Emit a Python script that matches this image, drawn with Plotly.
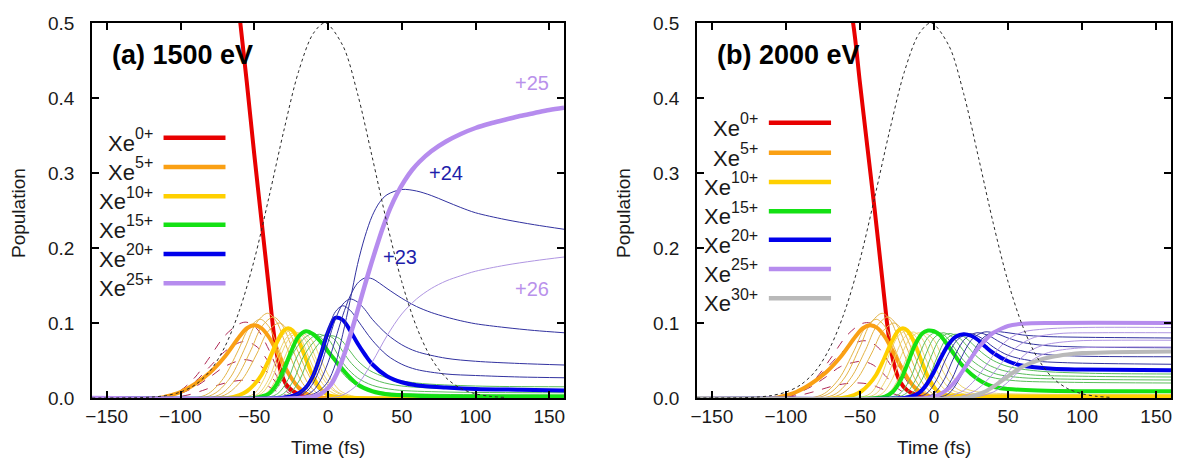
import plotly.graph_objects as go

# ---------------- data: (time fs, population) pairs ----------------
# Panel (a) 1500 eV
a_pulse = [(-160,0),(-130,0.0004),(-120,0.0012),(-110,0.0032),(-100,0.0079),(-90,0.0176),(-80,0.036),(-70,0.068),
           (-60,0.117),(-50,0.184),(-40,0.268),(-30,0.356),(-20,0.435),(-10,0.486),(-2,0.5),(10,0.47),(20,0.406),
           (30,0.321),(40,0.233),(50,0.155),(60,0.095),(70,0.053),(80,0.027),(90,0.0128),(100,0.0056),(110,0.0022),(120,0.0008)]
a_xe0 = [(-160,1.0),(-120,0.99),(-100,0.96),(-90,0.9),(-80,0.8),(-70,0.68),(-60,0.51),(-55,0.42),(-50,0.325),(-45,0.235),
         (-40,0.145),(-37,0.09),(-35,0.062),(-32,0.035),(-28,0.017),(-22,0.007),(-15,0.002),(-8,0),(160,0)]
a_xe1 = [(-160,0),(-110,0),(-95,0.004),(-85,0.01),(-75,0.017),(-65,0.022),(-55,0.024),(-48,0.022),(-40,0.015),(-33,0.007),(-25,0.002),(-15,0),(160,0)]
a_xe2 = [(-160,0),(-112,0),(-100,0.006),(-90,0.015),(-80,0.028),(-70,0.042),(-60,0.05),(-55,0.051),(-48,0.046),(-40,0.032),(-33,0.016),(-25,0.005),(-15,0),(160,0)]
a_xe3 = [(-160,0),(-112,0),(-100,0.008),(-90,0.022),(-80,0.042),(-70,0.062),(-60,0.074),(-55,0.075),(-48,0.068),(-40,0.047),(-33,0.024),(-25,0.007),(-15,0),(160,0)]
a_xe4 = [(-160,0),(-112,0),(-100,0.01),(-90,0.028),(-80,0.055),(-70,0.083),(-60,0.099),(-55,0.101),(-48,0.092),(-40,0.064),(-33,0.033),(-25,0.01),(-15,0),(160,0)]
a_xe5 = [(-160,0),(-115,0),(-110,0.002),(-100,0.008),(-90,0.019),(-80,0.034),(-70,0.055),(-60,0.082),(-55,0.093),(-50,0.097),
         (-45,0.093),(-40,0.081),(-35,0.063),(-30,0.044),(-25,0.027),(-20,0.014),(-15,0.006),(-10,0.002),(0,0),(160,0)]
a_xe6 = [(-160,0),(-91,0),(-81,0.006),(-71,0.026),(-61,0.063),(-54,0.092),(-46,0.105),(-40,0.095),(-34,0.068),(-28,0.04),(-22,0.018),(-16,0.006),(-8,0),(160,0)]
a_xe7 = [(-160,0),(-86,0),(-76,0.007),(-66,0.028),(-56,0.068),(-49,0.099),(-41,0.113),(-35,0.102),(-29,0.073),(-23,0.043),(-17,0.019),(-11,0.007),(-3,0),(160,0)]
a_xe8 = [(-160,0),(-82,0),(-72,0.006),(-62,0.027),(-52,0.065),(-45,0.095),(-37,0.108),(-31,0.097),(-25,0.07),(-19,0.041),(-13,0.018),(-7,0.006),(1,0),(160,0)]
a_xe9 = [(-160,0),(-78,0),(-68,0.006),(-58,0.025),(-48,0.06),(-41,0.088),(-33,0.1),(-27,0.09),(-21,0.065),(-15,0.038),(-9,0.017),(-3,0.006),(5,0),(160,0)]
a_xe10 = [(-160,0),(-68,0),(-60,0.004),(-55,0.009),(-50,0.018),(-45,0.031),(-40,0.051),(-35,0.073),(-30,0.09),(-27,0.093),(-24,0.09),
          (-20,0.077),(-15,0.052),(-10,0.028),(-5,0.012),(0,0.004),(10,0.001),(20,0),(160,0)]
a_xe11 = [(-160,0),(-60,0),(-50,0.006),(-43,0.027),(-37,0.059),(-31,0.083),(-25,0.09),(-19,0.081),(-13,0.054),(-7,0.029),(0,0.011),(8,0.003),(20,0),(160,0)]
a_xe12 = [(-160,0),(-57,0),(-47,0.006),(-40,0.026),(-34,0.057),(-28,0.081),(-22,0.088),(-16,0.079),(-10,0.053),(-4,0.028),(3,0.011),(11,0.003),(23,0),(160,0)]
a_xe13 = [(-160,0),(-55,0),(-45,0.006),(-38,0.026),(-32,0.057),(-26,0.08),(-20,0.087),(-14,0.078),(-8,0.052),(-2,0.028),(5,0.01),(13,0.003),(25,0),(160,0)]
a_xe14 = [(-160,0),(-52,0),(-42,0.006),(-35,0.026),(-29,0.056),(-23,0.079),(-17,0.086),(-11,0.077),(-5,0.052),(1,0.028),(8,0.01),(16,0.003),(28,0),(160,0)]
a_xe15 = [(-160,0),(-50,0),(-45,0.002),(-40,0.006),(-35,0.018),(-30,0.038),(-25,0.062),(-20,0.082),(-15,0.089),(-10,0.085),(-5,0.075),
          (0,0.062),(5,0.05),(10,0.038),(15,0.027),(20,0.018),(30,0.009),(40,0.005),(60,0.003),(100,0.002),(160,0.002)]
a_xe16 = [(-160,0),(-48,0),(-38,0.006),(-31,0.025),(-25,0.055),(-16,0.08),(-10,0.086),(-4,0.079),(2,0.058),(8,0.038),(15,0.023),(25,0.012),(40,0.007),(70,0.005),(160,0.004)]
a_xe17 = [(-160,0),(-44,0),(-34,0.006),(-27,0.025),(-21,0.055),(-12,0.079),(-6,0.085),(0,0.079),(6,0.06),(12,0.042),(20,0.027),(30,0.017),(45,0.011),(80,0.008),(160,0.007)]
a_xe18 = [(-160,0),(-40,0),(-30,0.006),(-23,0.025),(-17,0.054),(-8,0.078),(-2,0.084),(4,0.079),(10,0.062),(16,0.046),(24,0.032),(35,0.022),(50,0.016),(90,0.012),(160,0.011)]
a_xe19 = [(-160,0),(-36,0),(-26,0.006),(-19,0.025),(-13,0.053),(-4,0.077),(2,0.083),(8,0.079),(14,0.065),(20,0.05),(28,0.037),(40,0.027),(60,0.02),(100,0.016),(160,0.015)]
a_xe20 = [(-160,0),(-32,0),(-25,0.002),(-20,0.006),(-15,0.014),(-10,0.03),(-5,0.057),(0,0.088),(5,0.107),(10,0.104),(15,0.09),(20,0.073),
          (25,0.058),(30,0.045),(40,0.029),(50,0.021),(60,0.017),(80,0.014),(100,0.012),(130,0.011),(160,0.01)]
a_xe21 = [(-160,0),(-30,0),(-20,0.006),(-15,0.014),(-10,0.03),(-5,0.058),(0,0.09),(5,0.115),(10,0.123),(15,0.117),(20,0.104),(25,0.09),
          (30,0.077),(40,0.057),(50,0.045),(60,0.038),(80,0.032),(100,0.03),(130,0.028),(160,0.027)]
a_xe22 = [(-160,0),(-25,0),(-15,0.008),(-10,0.02),(-5,0.042),(0,0.074),(5,0.105),(10,0.125),(15,0.132),(20,0.128),(25,0.118),(30,0.105),
          (40,0.085),(50,0.071),(60,0.062),(80,0.053),(100,0.049),(130,0.046),(160,0.044)]
a_xe23 = [(-160,0),(-20,0),(-10,0.01),(-5,0.024),(0,0.047),(5,0.078),(10,0.11),(15,0.136),(20,0.153),(25,0.16),(30,0.159),(35,0.153),
          (40,0.146),(50,0.133),(60,0.122),(70,0.114),(80,0.108),(90,0.103),(100,0.099),(120,0.094),(140,0.09),(160,0.087)]
a_xe24 = [(-160,0),(-20,0),(-10,0.005),(-5,0.011),(0,0.022),(5,0.045),(10,0.085),(15,0.13),(20,0.178),(25,0.215),(30,0.243),(35,0.261),
          (40,0.271),(50,0.278),(60,0.276),(70,0.27),(80,0.262),(90,0.254),(100,0.247),(120,0.238),(140,0.231),(160,0.225)]
a_xe25 = [(-160,0),(-18,0),(-8,0.003),(-3,0.008),(2,0.018),(7,0.037),(12,0.064),(17,0.096),(22,0.13),(27,0.164),(32,0.196),(37,0.226),
          (42,0.252),(47,0.273),(52,0.29),(57,0.304),(62,0.315),(70,0.329),(80,0.342),(90,0.352),(100,0.36),(110,0.366),(120,0.371),
          (130,0.376),(140,0.38),(150,0.384),(160,0.387)]
a_xe26 = [(-160,0),(0,0),(10,0.004),(20,0.018),(30,0.048),(40,0.083),(50,0.112),(60,0.132),(70,0.146),(80,0.156),(90,0.163),(100,0.169),
          (120,0.177),(140,0.183),(160,0.188)]

# Panel (b) 2000 eV
b_pulse = a_pulse
b_xe0 = [(-160,1.0),(-120,0.99),(-100,0.95),(-85,0.84),(-75,0.72),(-65,0.6),(-55,0.505),(-50,0.42),(-45,0.335),(-40,0.25),(-35,0.16),
         (-32,0.105),(-30,0.075),(-27,0.045),(-23,0.022),(-18,0.01),(-12,0.004),(-5,0.001),(5,0),(160,0)]
b_xe1 = [(-160,0),(-105,0),(-90,0.004),(-80,0.009),(-70,0.015),(-60,0.019),(-50,0.02),(-43,0.018),(-35,0.012),(-28,0.006),(-20,0.002),(-10,0),(160,0)]
b_xe2 = [(-160,0),(-105,0),(-93,0.006),(-83,0.015),(-73,0.028),(-63,0.042),(-53,0.048),(-48,0.049),(-41,0.044),(-33,0.03),(-26,0.015),(-18,0.005),(-8,0),(160,0)]
b_xe3 = [(-160,0),(-103,0),(-91,0.008),(-81,0.022),(-71,0.043),(-61,0.063),(-51,0.075),(-45,0.076),(-38,0.068),(-30,0.046),(-23,0.023),(-15,0.007),(-5,0),(160,0)]
b_xe4 = [(-160,0),(-101,0),(-89,0.01),(-79,0.028),(-69,0.055),(-59,0.083),(-49,0.099),(-43,0.1),(-36,0.09),(-28,0.062),(-21,0.031),(-13,0.01),(-3,0),(160,0)]
b_xe5 = [(-160,0),(-108,0),(-103,0.002),(-93,0.008),(-83,0.019),(-73,0.034),(-63,0.055),(-53,0.082),(-48,0.093),(-43,0.097),(-38,0.093),
         (-33,0.081),(-28,0.063),(-23,0.044),(-18,0.027),(-13,0.014),(-8,0.006),(-3,0.002),(7,0),(160,0)]
b_xe6 = [(-160,0),(-84,0),(-74,0.006),(-64,0.026),(-54,0.063),(-47,0.092),(-39,0.105),(-33,0.095),(-27,0.068),(-21,0.04),(-15,0.018),(-9,0.006),(-1,0),(160,0)]
b_xe7 = [(-160,0),(-80,0),(-70,0.007),(-60,0.028),(-50,0.068),(-43,0.099),(-35,0.113),(-29,0.102),(-23,0.073),(-17,0.043),(-11,0.019),(-5,0.007),(3,0),(160,0)]
b_xe8 = [(-160,0),(-76,0),(-66,0.006),(-56,0.027),(-46,0.065),(-39,0.095),(-31,0.108),(-25,0.097),(-19,0.07),(-13,0.041),(-7,0.018),(-1,0.006),(7,0),(160,0)]
b_xe9 = [(-160,0),(-72,0),(-62,0.006),(-52,0.025),(-42,0.06),(-35,0.088),(-27,0.1),(-21,0.09),(-15,0.065),(-9,0.038),(-3,0.017),(3,0.006),(11,0),(160,0)]
b_xe10 = [(-160,0),(-62,0),(-54,0.004),(-49,0.009),(-44,0.018),(-39,0.031),(-34,0.051),(-29,0.073),(-24,0.09),(-21,0.093),(-18,0.09),
          (-14,0.077),(-9,0.052),(-4,0.028),(1,0.012),(6,0.005),(16,0.003),(40,0.002),(160,0.002)]
b_xe11 = [(-160,0),(-53,0),(-43,0.006),(-36,0.027),(-30,0.059),(-24,0.083),(-18,0.09),(-12,0.081),(-6,0.054),(0,0.029),(7,0.012),(15,0.005),(30,0.003),(160,0.002)]
b_xe12 = [(-160,0),(-49,0),(-39,0.006),(-32,0.026),(-26,0.057),(-20,0.081),(-14,0.088),(-8,0.079),(-2,0.053),(4,0.029),(11,0.012),(19,0.006),(35,0.004),(160,0.003)]
b_xe13 = [(-160,0),(-45,0),(-35,0.006),(-28,0.026),(-22,0.057),(-16,0.08),(-10,0.087),(-4,0.078),(2,0.052),(8,0.029),(15,0.013),(23,0.007),(40,0.005),(160,0.004)]
b_xe14 = [(-160,0),(-41,0),(-31,0.006),(-24,0.026),(-18,0.056),(-12,0.079),(-6,0.086),(0,0.077),(6,0.052),(12,0.03),(19,0.015),(27,0.009),(45,0.006),(160,0.005)]
b_xe15 = [(-160,0),(-38,0),(-33,0.002),(-28,0.008),(-23,0.022),(-18,0.045),(-13,0.07),(-8,0.086),(-4,0.09),(0,0.089),(4,0.084),(8,0.074),
          (13,0.06),(18,0.046),(25,0.032),(32,0.022),(40,0.015),(50,0.012),(70,0.01),(100,0.009),(160,0.009)]
b_xe16 = [(-160,0),(-33,0),(-23,0.006),(-16,0.026),(-10,0.057),(-4,0.081),(2,0.088),(8,0.082),(14,0.066),(20,0.05),(28,0.037),(38,0.028),(55,0.023),(90,0.021),(160,0.02)]
b_xe17 = [(-160,0),(-29,0),(-19,0.006),(-12,0.026),(-6,0.056),(0,0.08),(6,0.087),(12,0.082),(18,0.068),(24,0.053),(32,0.041),(42,0.032),(60,0.027),(95,0.025),(160,0.024)]
b_xe18 = [(-160,0),(-25,0),(-15,0.006),(-8,0.025),(-2,0.055),(4,0.079),(10,0.086),(16,0.082),(22,0.07),(28,0.057),(36,0.045),(46,0.037),(65,0.031),(100,0.029),(160,0.028)]
b_xe19 = [(-160,0),(-21,0),(-11,0.006),(-4,0.025),(2,0.054),(8,0.078),(14,0.085),(20,0.082),(26,0.072),(32,0.061),(40,0.05),(50,0.042),(70,0.036),(105,0.033),(160,0.032)]
b_xe20 = [(-160,0),(-20,0),(-15,0.002),(-10,0.007),(-5,0.018),(0,0.035),(5,0.055),(10,0.072),(15,0.082),(20,0.085),(25,0.083),(30,0.077),
          (35,0.068),(40,0.06),(50,0.049),(60,0.043),(80,0.039),(100,0.038),(160,0.037)]
b_xe21 = [(-160,0),(-15,0),(-5,0.006),(2,0.025),(8,0.052),(16,0.078),(24,0.086),(32,0.08),(40,0.068),(50,0.057),(65,0.05),(90,0.047),(160,0.045)]
b_xe22 = [(-160,0),(-10,0),(0,0.006),(7,0.025),(13,0.052),(21,0.079),(29,0.087),(37,0.083),(45,0.074),(55,0.065),(70,0.059),(95,0.056),(160,0.055)]
b_xe23 = [(-160,0),(-5,0),(5,0.006),(12,0.025),(18,0.052),(26,0.079),(34,0.088),(42,0.086),(50,0.08),(60,0.074),(75,0.07),(100,0.068),(160,0.067)]
b_xe24 = [(-160,0),(0,0),(10,0.006),(17,0.025),(24,0.052),(32,0.078),(40,0.088),(50,0.087),(60,0.084),(75,0.082),(100,0.081),(160,0.08)]
b_xe25 = [(-160,0),(-5,0),(0,0.002),(5,0.006),(10,0.013),(15,0.024),(20,0.038),(25,0.053),(30,0.067),(35,0.078),(40,0.087),(45,0.092),
          (50,0.096),(60,0.099),(80,0.1),(160,0.1)]
b_xe26 = [(-160,0),(0,0),(10,0.002),(20,0.01),(28,0.025),(35,0.043),(42,0.062),(50,0.078),(60,0.088),(75,0.092),(100,0.094),(160,0.094)]
b_xe27 = [(-160,0),(8,0),(18,0.002),(28,0.01),(36,0.024),(43,0.04),(50,0.057),(58,0.071),(68,0.081),(85,0.086),(110,0.087),(160,0.087)]
b_xe28 = [(-160,0),(15,0),(25,0.002),(35,0.009),(43,0.021),(50,0.035),(57,0.05),(65,0.063),(75,0.071),(95,0.076),(120,0.077),(160,0.077)]
b_xe29 = [(-160,0),(20,0),(30,0.002),(40,0.008),(48,0.018),(55,0.031),(62,0.044),(70,0.055),(80,0.062),(100,0.067),(125,0.068),(160,0.068)]
b_xe30 = [(-160,0),(20,0),(25,0.002),(30,0.005),(35,0.009),(40,0.015),(45,0.022),(50,0.029),(55,0.036),(60,0.042),(70,0.05),(80,0.055),
          (90,0.058),(100,0.06),(120,0.061),(160,0.062)]

x_ticks = [-150, -100, -50, 0, 50, 100, 150]
y_ticks = [0.0, 0.1, 0.2, 0.3, 0.4, 0.5]
y_ticktext = ["0.0", "0.1", "0.2", "0.3", "0.4", "0.5"]
legend_a = ["0", "5", "10", "15", "20", "25"]
legend_b = ["0", "5", "10", "15", "20", "25", "30"]
panel_titles = ["(a) 1500 eV", "(b) 2000 eV"]

# ---------------- styles ----------------
RED = "rgb(232,0,0)"
ORANGE = "rgb(250,160,20)"
GOLD = "rgb(255,208,0)"
GREEN = "rgb(20,225,20)"
BLUE = "rgb(0,0,235)"
LAV = "rgb(182,140,238)"
GRAY = "rgb(185,185,185)"
thick_col = {0: RED, 5: ORANGE, 10: GOLD, 15: GREEN, 20: BLUE, 25: LAV, 30: GRAY}
THIN_RED = "rgb(175,40,85)"
THIN_OR = "rgb(228,180,70)"
THIN_GOLD = "rgb(238,212,110)"
THIN_GREEN = "rgb(90,190,90)"
THIN_BLUE = "rgb(50,50,160)"
THIN_LAV = "rgb(176,150,226)"

fig = go.Figure()


def add(pairs, xa, ya, color, width, dash="solid"):
    t = [p[0] for p in pairs]
    v = [p[1] for p in pairs]
    fig.add_trace(go.Scatter(x=t, y=v, mode="lines", xaxis=xa, yaxis=ya,
                             line=dict(color=color, width=width, dash=dash, shape="spline", smoothing=0.9),
                             hoverinfo="skip", showlegend=False))


# panel a
A = ("x", "y")
for c in [a_xe1, a_xe2, a_xe3, a_xe4]:
    add(c, *A, THIN_RED, 1, "dash")
add(a_xe0, *A, RED, 4)
for c in [a_xe6, a_xe7, a_xe8, a_xe9]:
    add(c, *A, THIN_OR, 1)
add(a_xe5, *A, ORANGE, 4)
for c in [a_xe11, a_xe12, a_xe13, a_xe14]:
    add(c, *A, THIN_GOLD, 1)
add(a_xe10, *A, GOLD, 4)
for c in [a_xe16, a_xe17, a_xe18, a_xe19]:
    add(c, *A, THIN_GREEN, 1)
add(a_xe15, *A, GREEN, 4)
add(a_xe20, *A, BLUE, 4)
for c in [a_xe21, a_xe22, a_xe23, a_xe24]:
    add(c, *A, THIN_BLUE, 1)
add(a_xe26, *A, THIN_LAV, 1)
add(a_xe25, *A, LAV, 4.5)
add(a_pulse, *A, "rgb(40,40,40)", 1, "dot")

# panel b
B = ("x2", "y2")
for c in [b_xe1, b_xe2, b_xe3, b_xe4]:
    add(c, *B, THIN_RED, 1, "dash")
add(b_xe0, *B, RED, 4)
for c in [b_xe6, b_xe7, b_xe8, b_xe9]:
    add(c, *B, THIN_OR, 1)
add(b_xe5, *B, ORANGE, 4)
for c in [b_xe11, b_xe12, b_xe13, b_xe14]:
    add(c, *B, THIN_GOLD, 1)
add(b_xe10, *B, GOLD, 4)
for c in [b_xe16, b_xe17, b_xe18, b_xe19]:
    add(c, *B, THIN_GREEN, 1)
add(b_xe15, *B, GREEN, 4)
for c in [b_xe21, b_xe22, b_xe23, b_xe24]:
    add(c, *B, THIN_BLUE, 1)
add(b_xe20, *B, BLUE, 4)
for c in [b_xe26, b_xe27, b_xe28, b_xe29]:
    add(c, *B, THIN_LAV, 1)
add(b_xe25, *B, LAV, 4)
add(b_xe30, *B, GRAY, 4)
add(b_pulse, *B, "rgb(40,40,40)", 1, "dot")

# ---------------- axes ----------------
FONT = "Liberation Sans, Arial, sans-serif"
TXT = "#1a1a1a"
axis_common = dict(showline=True, linecolor="black", linewidth=1.5, mirror="allticks", ticks="inside",
                   ticklen=7, tickwidth=1.5, tickcolor="black", showgrid=False, zeroline=False,
                   tickfont=dict(family=FONT, size=19, color=TXT))
W, H = 1178, 460
ydom = [1 - 398 / H, 1 - 23 / H]
fig.update_layout(
    width=W, height=H, margin=dict(l=0, r=0, t=0, b=0, autoexpand=False),
    paper_bgcolor="white", plot_bgcolor="white", showlegend=False,
    xaxis=dict(domain=[92 / W, 564 / W], range=[-160, 160], tickvals=x_ticks, anchor="y", **axis_common),
    yaxis=dict(domain=ydom, range=[0, 0.5], tickvals=y_ticks, ticktext=y_ticktext, anchor="x",
               ticklabelstandoff=12, **axis_common),
    xaxis2=dict(domain=[697 / W, 1171 / W], range=[-160, 160], tickvals=x_ticks, anchor="y2", **axis_common),
    yaxis2=dict(domain=ydom, range=[0, 0.5], tickvals=y_ticks, ticktext=y_ticktext, anchor="x2",
                ticklabelstandoff=12, **axis_common),
)

ann = []
# axis titles
for xc, yl in [((92 + 564) / 2 / W, 18 / W), ((697 + 1171) / 2 / W, 623 / W)]:
    ann.append(dict(text="Time (fs)", x=xc, y=1 - 447 / H, xref="paper", yref="paper", showarrow=False,
                    font=dict(family=FONT, size=19, color=TXT), xanchor="center", yanchor="middle"))
    ann.append(dict(text="Population", x=yl, y=1 - 213 / H, xref="paper", yref="paper", showarrow=False,
                    textangle=-90, font=dict(family=FONT, size=19, color=TXT), xanchor="center", yanchor="middle"))
# panel titles
for (xr, yr), title in zip([("x", "y"), ("x2", "y2")], panel_titles):
    ann.append(dict(text="<b>" + title + "</b>", x=-148, y=0.457, xref=xr, yref=yr, showarrow=False,
                    xanchor="left", yanchor="middle", font=dict(family=FONT, size=27, color="black")))

# legends (text + superscript + line keys)
shapes = []
legend_rows_a = [0.347, 0.308, 0.269, 0.231, 0.192, 0.153]
legend_rows_b = [0.367, 0.327, 0.288, 0.249, 0.211, 0.172, 0.133]
PX_PER_FS = 1.48
SUP_SIZE = 16
LEG_RIGHT = -118.0
for (xr, yr), labels, rows in [(("x", "y"), legend_a, legend_rows_a), (("x2", "y2"), legend_b, legend_rows_b)]:
    for lab, yy in zip(labels, rows):
        col = thick_col[int(lab)]
        sup = lab + "+"
        sup_w = SUP_SIZE * (0.556 * len(lab) + 0.584)
        ann.append(dict(text=sup, x=LEG_RIGHT, y=yy + 0.0055, xref=xr, yref=yr, showarrow=False, borderpad=0,
                        xanchor="right", yanchor="middle", font=dict(family=FONT, size=SUP_SIZE, color=TXT)))
        ann.append(dict(text="Xe", x=LEG_RIGHT - sup_w / PX_PER_FS, y=yy - 0.007, xref=xr, yref=yr, showarrow=False,
                        borderpad=0, xanchor="right", yanchor="middle", font=dict(family=FONT, size=22, color=TXT)))
        shapes.append(dict(type="line", xref=xr, yref=yr, x0=-111.5, x1=-69.5, y0=yy, y1=yy,
                           line=dict(color=col, width=4.5)))

# charge-state labels in panel (a)
for txt, tx, ty, col in [("+25", 138, 0.42, "rgb(185,145,235)"), ("+24", 80, 0.30, "rgb(30,30,170)"),
                         ("+23", 49, 0.188, "rgb(30,30,170)"), ("+26", 138, 0.145, "rgb(185,145,235)")]:
    ann.append(dict(text=txt, x=tx, y=ty, xref="x", yref="y", showarrow=False, xanchor="center", yanchor="middle",
                    font=dict(family=FONT, size=20, color=col)))

fig.update_layout(annotations=ann, shapes=shapes)
fig.write_html("out.html", config={"displayModeBar": False},
               post_script="document.body.style.margin='0';document.body.style.padding='0';")
